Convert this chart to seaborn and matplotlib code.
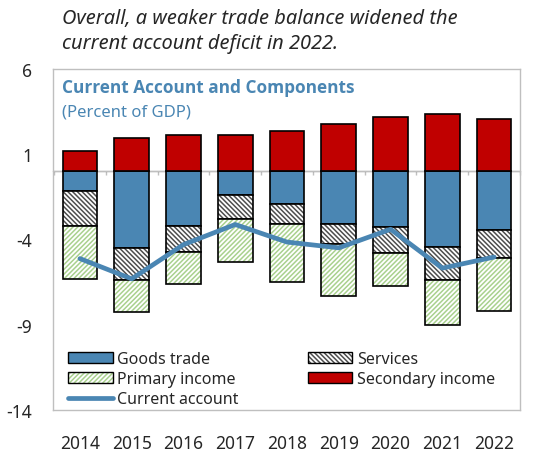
import matplotlib
matplotlib.use("Agg")
import matplotlib.pyplot as plt
import seaborn as sns
import numpy as np
from matplotlib.patches import Patch
from matplotlib.lines import Line2D

years = ['2014', '2015', '2016', '2017', '2018', '2019', '2020', '2021', '2022']
goods = [-1.18, -4.52, -3.18, -1.41, -1.91, -3.08, -3.27, -4.45, -3.47]
services = [-2.00, -1.85, -1.54, -1.38, -1.21, -1.21, -1.50, -1.92, -1.59]
primary = [-3.13, -1.90, -1.88, -2.54, -3.40, -3.00, -1.98, -2.65, -3.13]
secondary = [1.19, 1.94, 2.13, 2.13, 2.34, 2.79, 3.17, 3.34, 3.04]
current = [-5.12, -6.31, -4.30, -3.12, -4.15, -4.49, -3.40, -5.68, -5.03]
yticks = [6, 1, -4, -9, -14]

BLUE = '#4a86b3'
RED = '#c00000'
GREEN = '#a9d18e'
HATCHGRAY = '#4d4d4d'
FRAME = '#bfbfbf'

sns.set_style('white')
plt.rcParams['font.family'] = ['Noto Sans', 'DejaVu Sans']
plt.rcParams['hatch.linewidth'] = 1.1

fig = plt.figure(figsize=(5.46, 4.52), dpi=100)
ax = fig.add_axes([53/546, 1-411/452, 467/546, 341/452])

goods_a = np.array(goods)
serv_bottom = goods_a
prim_bottom = goods_a + np.array(services)

SERV_H = '\\' * 7
PRIM_H = '/' * 7

W = 0.67
sns.barplot(x=years, y=goods, color=BLUE, edgecolor='black', linewidth=1.2,
            saturation=1, width=W, errorbar=None, ax=ax)
# services: hatch then outline
sns.barplot(x=years, y=services, bottom=serv_bottom, color='white', edgecolor=HATCHGRAY,
            hatch=SERV_H, linewidth=0, saturation=1, width=W, errorbar=None, ax=ax)
sns.barplot(x=years, y=services, bottom=serv_bottom, color='white', edgecolor='black',
            linewidth=1.2, saturation=1, width=W, errorbar=None, ax=ax)
for p in ax.containers[-1]:
    p.set_facecolor('none')
# primary income: hatch then outline
sns.barplot(x=years, y=primary, bottom=prim_bottom, color='white', edgecolor=GREEN,
            hatch=PRIM_H, linewidth=0, saturation=1, width=W, errorbar=None, ax=ax)
sns.barplot(x=years, y=primary, bottom=prim_bottom, color='white', edgecolor='black',
            linewidth=1.2, saturation=1, width=W, errorbar=None, ax=ax)
for p in ax.containers[-1]:
    p.set_facecolor('none')
sns.barplot(x=years, y=secondary, color=RED, edgecolor='black', linewidth=1.2,
            saturation=1, width=W, errorbar=None, ax=ax)

sns.lineplot(x=years, y=current, color=BLUE, linewidth=3.4, sort=False, ax=ax)

ax.axhline(0, color=FRAME, linewidth=1.0, zorder=0.5)
ax.set_ylim(-14, 6)
ax.set_xlim(-0.52, 8.5)
ax.set_yticks(yticks)
ax.set_yticklabels([str(v) for v in yticks])
ax.tick_params(axis='y', length=0, pad=15, labelsize=12.5)
ax.tick_params(axis='x', length=0, pad=17, labelsize=12.5)
ax.set_xlabel('')
ax.set_ylabel('')
for s in ax.spines.values():
    s.set_color(FRAME)
    s.set_linewidth(1.0)

# small category ticks on the zero line
sec = ax.secondary_xaxis(14/20)
sec.set_xticks(np.arange(len(years) + 1) - 0.5)
sec.tick_params(length=3, direction='in', labelbottom=False, color=FRAME, width=1)
sec.set_xticklabels([])
sec.spines['bottom'].set_visible(False)

ax.text(0.019, 0.947, 'Current Account and Components', transform=ax.transAxes,
        color=BLUE, fontsize=12.4, fontweight='bold', family=['Open Sans', 'DejaVu Sans'],
        va='center', ha='left')
ax.text(0.019, 0.874, '(Percent of GDP)', transform=ax.transAxes,
        color=BLUE, fontsize=12, va='center', ha='left')

fig.text(62/546, 1-9/452, 'Overall, a weaker trade balance widened the\ncurrent account deficit in 2022.',
         style='italic', fontsize=14.4, va='top', ha='left', linespacing=1.35)

h_goods = Patch(facecolor=BLUE, edgecolor='black', linewidth=1.0)
h_serv = (Patch(facecolor='white', edgecolor=HATCHGRAY, hatch=SERV_H, linewidth=0),
          Patch(facecolor='none', edgecolor='black', linewidth=1.0))
h_prim = (Patch(facecolor='white', edgecolor=GREEN, hatch=PRIM_H, linewidth=0),
          Patch(facecolor='none', edgecolor='black', linewidth=1.0))
h_sec = Patch(facecolor=RED, edgecolor='black', linewidth=1.0)
h_ca = Line2D([], [], color=BLUE, linewidth=3.4)

leg = ax.legend([h_goods, h_prim, h_ca, h_serv, h_sec],
                ['Goods trade', 'Primary income', 'Current account', 'Services', 'Secondary income'],
                ncol=2, loc='upper left', bbox_to_anchor=(0.032, 0.172), frameon=False,
                fontsize=11.5, handlelength=2.8, handleheight=0.7, handletextpad=0.3,
                columnspacing=4.3, labelspacing=0.25, borderpad=0, borderaxespad=0)

fig.savefig('out.png', dpi=100)
